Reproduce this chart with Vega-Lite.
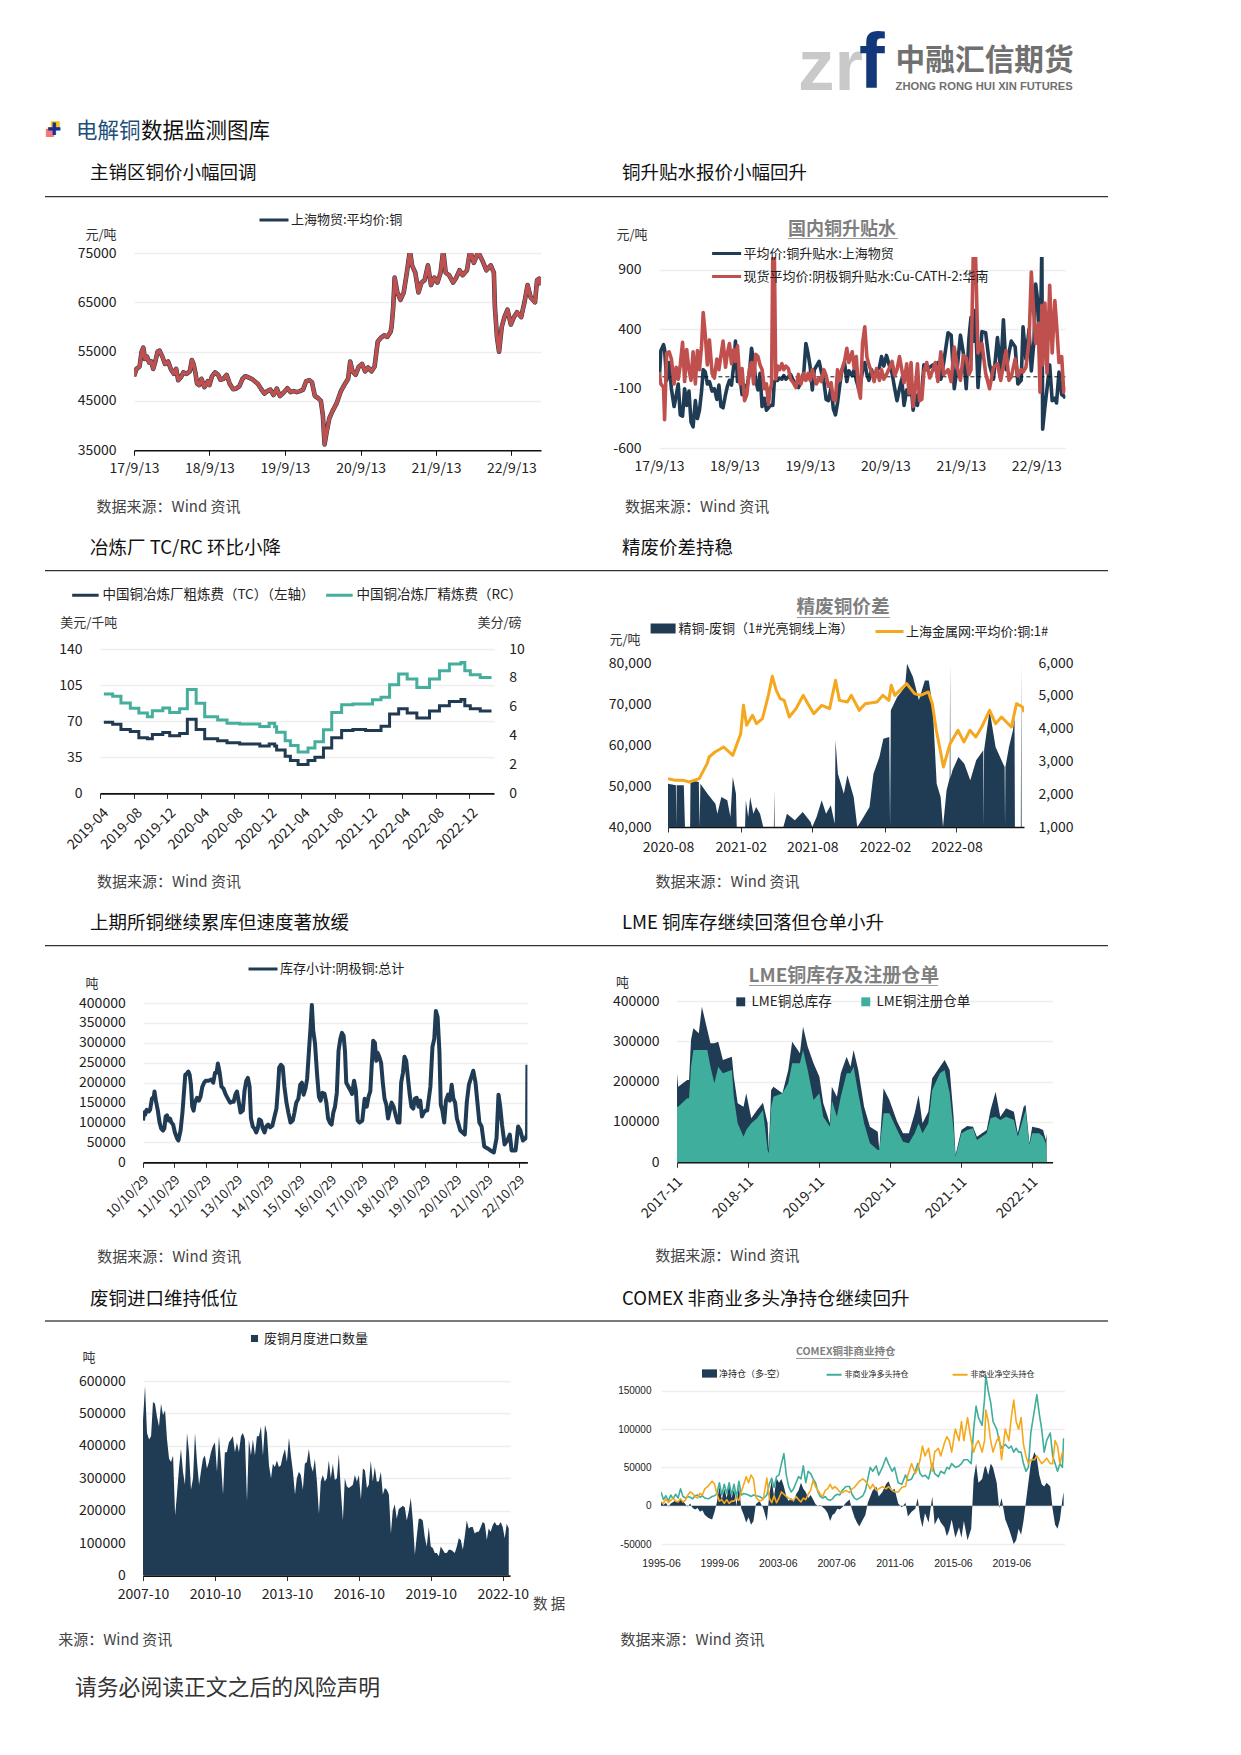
{"$schema":"https://vega.github.io/schema/vega-lite/v6.json","padding":0,"background":"white","config":{"font":"Noto Sans CJK SC","view":{"stroke":null},"axis":{"labelFontSize":14,"labelColor":"#222","labelFont":"Noto Sans CJK SC","titleFont":"Noto Sans CJK SC","titleFontWeight":"normal","titleFontSize":13,"titleColor":"#333","gridColor":"#eeeeee","gridWidth":1.5,"labelFlush":false,"labelOverlap":false},"legend":{"labelFontSize":13,"labelColor":"#222","labelLimit":500,"title":null,"symbolStrokeWidth":3}},
"spacing":0,"bounds":"flush",
"resolve":{"scale":{"stroke":"independent","fill":"independent"},"legend":{"stroke":"independent","fill":"independent"}},
"vconcat":[
{"spacing":0,"bounds":"flush","vconcat":[{"width":1,"height":0.001,"data":{"name":"e"},"mark":"point","title":{"text":"■","anchor":"start","frame":"group","offset":0,"dx":50,"dy":138,"baseline":"middle","fontSize":11,"color":"#f5c518","limit":0}}]},
{"spacing":0,"bounds":"flush","vconcat":[{"width":1,"height":0.001,"data":{"name":"e"},"mark":"point","title":{"text":"■","anchor":"start","frame":"group","offset":0,"dx":45,"dy":144,"baseline":"middle","fontSize":10,"color":"#f07a7a","limit":0}}]},
{"spacing":0,"bounds":"flush","vconcat":[{"width":1,"height":0.001,"data":{"name":"e"},"mark":"point","title":{"text":"✚","anchor":"start","frame":"group","offset":0,"dx":47,"dy":147,"baseline":"middle","fontSize":17,"font":"DejaVu Sans","color":"#1a2f8a","limit":0}}]},
{"spacing":0,"bounds":"flush","vconcat":[{"width":1,"height":0.001,"data":{"name":"e"},"mark":"point","title":{"text":"电解铜","anchor":"start","frame":"group","offset":0,"dx":76,"dy":153,"baseline":"middle","fontSize":21.5,"color":"#1f4e79","limit":0,"fontWeight":"normal"}}]},
{"spacing":0,"bounds":"flush","vconcat":[{"width":1,"height":0.001,"data":{"name":"e"},"mark":"point","title":{"text":"数据监测图库","anchor":"start","frame":"group","offset":0,"dx":141,"dy":153,"baseline":"middle","fontSize":21.5,"color":"#111","limit":0,"fontWeight":"normal"}}]},
{"spacing":0,"bounds":"flush","vconcat":[{"width":1,"height":0.001,"data":{"name":"e"},"mark":"point","title":{"text":"zr","anchor":"start","frame":"group","offset":0,"dx":798,"dy":163,"baseline":"alphabetic","fontSize":73,"font":"Liberation Sans","fontWeight":"bold","color":"#c9c9c9","limit":0}}]},
{"spacing":0,"bounds":"flush","vconcat":[{"width":1,"height":0.001,"data":{"name":"e"},"mark":"point","title":{"text":"f","anchor":"start","frame":"group","offset":0,"dx":859,"dy":165,"baseline":"alphabetic","fontSize":77,"font":"Liberation Sans","fontWeight":"bold","color":"#12387a","limit":0}}]},
{"spacing":0,"bounds":"flush","vconcat":[{"width":1,"height":0.001,"data":{"name":"e"},"mark":"point","title":{"text":"中融汇信期货","anchor":"start","frame":"group","offset":0,"dx":895.6,"dy":91,"baseline":"middle","fontSize":29.7,"fontWeight":"bold","color":"#707070","limit":0}}]},
{"spacing":0,"bounds":"flush","vconcat":[{"width":1,"height":0.001,"data":{"name":"e"},"mark":"point","title":{"text":"ZHONG RONG HUI XIN FUTURES","anchor":"start","frame":"group","offset":0,"dx":895.6,"dy":98.4,"baseline":"middle","fontSize":11.2,"font":"Liberation Sans","fontWeight":"bold","color":"#707070","limit":0}}]},
{"spacing":0,"bounds":"flush","vconcat":[{"width":1,"height":0.001,"data":{"name":"e"},"mark":"point","title":{"text":"请务必阅读正文之后的风险声明","anchor":"start","frame":"group","offset":0,"dx":75,"dy":1709.7,"baseline":"middle","fontSize":21.8,"color":"#333","limit":0,"fontWeight":"normal"}}]},
{"spacing":0,"bounds":"flush","vconcat":[{"width":1,"height":0.001,"data":{"name":"e"},"mark":"point","title":{"text":"数 据","anchor":"start","frame":"group","offset":0,"dx":533,"dy":1619.3,"baseline":"middle","fontSize":14.5,"color":"#444","limit":0,"fontWeight":"normal"}}]},
{"spacing":0,"bounds":"flush","vconcat":[{"width":1,"height":0.001,"data":{"name":"e"},"mark":"point","title":{"text":"主销区铜价小幅回调","anchor":"start","frame":"group","offset":0,"dx":90,"dy":191,"baseline":"middle","fontSize":18.5,"color":"#111","limit":0,"fontWeight":"normal"}}]},
{"spacing":0,"bounds":"flush","vconcat":[{"width":1,"height":0.001,"data":{"name":"e"},"mark":"point","title":{"text":"铜升贴水报价小幅回升","anchor":"start","frame":"group","offset":0,"dx":622,"dy":191,"baseline":"middle","fontSize":18.5,"color":"#111","limit":0,"fontWeight":"normal"}}]},
{"spacing":0,"bounds":"flush","vconcat":[{"width":1,"height":0.001,"data":{"name":"e"},"mark":"point","title":{"text":"冶炼厂 TC/RC 环比小降","anchor":"start","frame":"group","offset":0,"dx":90,"dy":566,"baseline":"middle","fontSize":18.5,"color":"#111","limit":0,"fontWeight":"normal"}}]},
{"spacing":0,"bounds":"flush","vconcat":[{"width":1,"height":0.001,"data":{"name":"e"},"mark":"point","title":{"text":"精废价差持稳","anchor":"start","frame":"group","offset":0,"dx":622,"dy":566,"baseline":"middle","fontSize":18.5,"color":"#111","limit":0,"fontWeight":"normal"}}]},
{"spacing":0,"bounds":"flush","vconcat":[{"width":1,"height":0.001,"data":{"name":"e"},"mark":"point","title":{"text":"上期所铜继续累库但速度著放缓","anchor":"start","frame":"group","offset":0,"dx":90,"dy":941.7,"baseline":"middle","fontSize":18.5,"color":"#111","limit":0,"fontWeight":"normal"}}]},
{"spacing":0,"bounds":"flush","vconcat":[{"width":1,"height":0.001,"data":{"name":"e"},"mark":"point","title":{"text":"LME 铜库存继续回落但仓单小升","anchor":"start","frame":"group","offset":0,"dx":622,"dy":941.7,"baseline":"middle","fontSize":18.5,"color":"#111","limit":0,"fontWeight":"normal"}}]},
{"spacing":0,"bounds":"flush","vconcat":[{"width":1,"height":0.001,"data":{"name":"e"},"mark":"point","title":{"text":"废铜进口维持低位","anchor":"start","frame":"group","offset":0,"dx":90,"dy":1317,"baseline":"middle","fontSize":18.5,"color":"#111","limit":0,"fontWeight":"normal"}}]},
{"spacing":0,"bounds":"flush","vconcat":[{"width":1,"height":0.001,"data":{"name":"e"},"mark":"point","title":{"text":"COMEX 非商业多头净持仓继续回升","anchor":"start","frame":"group","offset":0,"dx":622,"dy":1317,"baseline":"middle","fontSize":18.5,"color":"#111","limit":0,"fontWeight":"normal"}}]},
{"spacing":0,"bounds":"flush","vconcat":[{"width":1,"height":0.001,"data":{"name":"e"},"mark":"point","title":{"text":"国内铜升贴水","anchor":"start","frame":"group","offset":0,"dx":788,"dy":248,"baseline":"middle","fontSize":18,"fontWeight":"bold","color":"#7f7f7f","limit":0}}]},
{"spacing":0,"bounds":"flush","vconcat":[{"width":1,"height":0.001,"data":{"name":"e"},"mark":"point","title":{"text":"精废铜价差","anchor":"start","frame":"group","offset":0,"dx":796.5,"dy":625.7,"baseline":"middle","fontSize":18.6,"fontWeight":"bold","color":"#7f7f7f","limit":0}}]},
{"spacing":0,"bounds":"flush","vconcat":[{"width":1,"height":0.001,"data":{"name":"e"},"mark":"point","title":{"text":"LME铜库存及注册仓单","anchor":"start","frame":"group","offset":0,"dx":748.5,"dy":994.8,"baseline":"middle","fontSize":19,"fontWeight":"bold","color":"#7f7f7f","limit":0}}]},
{"spacing":0,"bounds":"flush","vconcat":[{"width":1,"height":0.001,"data":{"name":"e"},"mark":"point","title":{"text":"COMEX铜非商业持仓","anchor":"start","frame":"group","offset":0,"dx":796,"dy":1362,"baseline":"middle","fontSize":10.5,"fontWeight":"bold","color":"#7f7f7f","limit":0}}]},

{"spacing":0,"bounds":"flush","hconcat":[{"width":45,"height":1,"data":{"name":"e"},"mark":"point"},{"spacing":0,"bounds":"flush","vconcat":[{"width":1,"height":195.3,"data":{"name":"e"},"mark":"point"},{"width":1063,"height":1.3,"view":{"fill":"#333333","stroke":null},"data":{"name":"e"},"mark":"point"}]}]},
{"spacing":0,"bounds":"flush","hconcat":[{"width":45,"height":1,"data":{"name":"e"},"mark":"point"},{"spacing":0,"bounds":"flush","vconcat":[{"width":1,"height":570,"data":{"name":"e"},"mark":"point"},{"width":1063,"height":1.3,"view":{"fill":"#333333","stroke":null},"data":{"name":"e"},"mark":"point"}]}]},
{"spacing":0,"bounds":"flush","hconcat":[{"width":45,"height":1,"data":{"name":"e"},"mark":"point"},{"spacing":0,"bounds":"flush","vconcat":[{"width":1,"height":945,"data":{"name":"e"},"mark":"point"},{"width":1063,"height":1.3,"view":{"fill":"#333333","stroke":null},"data":{"name":"e"},"mark":"point"}]}]},
{"spacing":0,"bounds":"flush","hconcat":[{"width":45,"height":1,"data":{"name":"e"},"mark":"point"},{"spacing":0,"bounds":"flush","vconcat":[{"width":1,"height":1320,"data":{"name":"e"},"mark":"point"},{"width":1063,"height":2,"view":{"fill":"#7a7a7a","stroke":null},"data":{"name":"e"},"mark":"point"}]}]},
{"spacing":0,"bounds":"flush","hconcat":[{"width":787.6,"height":1,"data":{"name":"e"},"mark":"point"},{"spacing":0,"bounds":"flush","vconcat":[{"width":1,"height":237.6,"data":{"name":"e"},"mark":"point"},{"width":110,"height":1,"view":{"fill":"#9a9a9a","stroke":null},"data":{"name":"e"},"mark":"point"}]}]},
{"spacing":0,"bounds":"flush","hconcat":[{"width":796.5,"height":1,"data":{"name":"e"},"mark":"point"},{"spacing":0,"bounds":"flush","vconcat":[{"width":1,"height":616.7,"data":{"name":"e"},"mark":"point"},{"width":93,"height":1,"view":{"fill":"#9a9a9a","stroke":null},"data":{"name":"e"},"mark":"point"}]}]},
{"spacing":0,"bounds":"flush","hconcat":[{"width":748.5,"height":1,"data":{"name":"e"},"mark":"point"},{"spacing":0,"bounds":"flush","vconcat":[{"width":1,"height":985,"data":{"name":"e"},"mark":"point"},{"width":189,"height":1,"view":{"fill":"#9a9a9a","stroke":null},"data":{"name":"e"},"mark":"point"}]}]},
{"spacing":0,"bounds":"flush","hconcat":[{"width":796,"height":1,"data":{"name":"e"},"mark":"point"},{"spacing":0,"bounds":"flush","vconcat":[{"width":1,"height":1358,"data":{"name":"e"},"mark":"point"},{"width":93,"height":1,"view":{"fill":"#9a9a9a","stroke":null},"data":{"name":"e"},"mark":"point"}]}]},

{"spacing":0,"bounds":"flush","hconcat":[{"width":134,"height":1,"data":{"name":"e"},"mark":"point"},{"spacing":0,"bounds":"flush","resolve":{"scale":{"stroke":"independent","fill":"independent"},"legend":{"stroke":"independent","fill":"independent"}},"vconcat":[{"width":1,"height":252.4,"data":{"name":"e"},"mark":"point"},
{"width":407,"height":197.3,
 "layer":[
  {"data":{"name":"p1"},"mark":{"type":"line","clip":true,"strokeWidth":4.6,"strokeJoin":"round"},
   "encoding":{"x":{"field":"d","type":"temporal","title":"数据来源：Wind 资讯","scale":{"domain":[{"year":2017,"month":9,"date":13},{"year":2023,"month":2,"date":3}]},"axis":{"values":[{"year":2017,"month":9,"date":13},{"year":2018,"month":9,"date":13},{"year":2019,"month":9,"date":13},{"year":2020,"month":9,"date":13},{"year":2021,"month":9,"date":13},{"year":2022,"month":9,"date":13}],"format":"%y/%-m/%d","grid":false,"labelAngle":0,"domainColor":"#111","domainWidth":1.6,"tickColor":"#111","tickSize":5,"labelPadding":6,"titleX":-38,"titleY":56,"titleAlign":"left","titleBaseline":"middle","titleFontSize":15,"titleColor":"#444"}},
    "y":{"field":"v","type":"quantitative","title":"元/吨","scale":{"domain":[35000,75000]},"axis":{"values":[35000,45000,55000,65000,75000],"format":"d","domain":false,"ticks":false,"labelPadding":18,"titleAngle":0,"titleX":-49,"titleY":-19,"titleAlign":"left","titleBaseline":"middle"}},
    "stroke":{"datum":"上海物贸:平均价:铜","scale":{"range":["#203a52"]},"legend":{"orient":"none","legendX":124,"legendY":-49,"symbolType":"stroke","symbolSize":841,"labelOffset":1}}}},
  {"data":{"name":"p1"},"mark":{"type":"line","clip":true,"strokeWidth":3.6,"color":"#c0504d","strokeJoin":"round"},
   "encoding":{"x":{"field":"d","type":"temporal"},"y":{"field":"v","type":"quantitative","scale":{"domain":[35000,75000]}}}}
 ]}]}]},

{"spacing":0,"bounds":"flush","hconcat":[{"width":658.4,"height":1,"data":{"name":"e"},"mark":"point"},{"spacing":0,"bounds":"flush","resolve":{"scale":{"stroke":"independent","fill":"independent"},"legend":{"stroke":"independent","fill":"independent"}},"vconcat":[{"width":1,"height":256.5,"data":{"name":"e"},"mark":"point"},
{"width":406.4,"height":191.2,
 "layer":[
  {"data":{"name":"p2"},"mark":{"type":"line","clip":true,"strokeWidth":3.6,"strokeJoin":"round"},
   "encoding":{"x":{"field":"d","type":"temporal","title":"数据来源：Wind 资讯","scale":{"domain":[{"year":2017,"month":9,"date":13},{"year":2023,"month":2,"date":1}]},"axis":{"values":[{"year":2017,"month":9,"date":13},{"year":2018,"month":9,"date":13},{"year":2019,"month":9,"date":13},{"year":2020,"month":9,"date":13},{"year":2021,"month":9,"date":13},{"year":2022,"month":9,"date":13}],"format":"%y/%-m/%d","grid":false,"labelAngle":0,"domain":false,"ticks":false,"labelPadding":11,"titleX":-34.4,"titleY":58,"titleAlign":"left","titleBaseline":"middle","titleFontSize":15,"titleColor":"#444"}},
    "y":{"field":"n","type":"quantitative","title":"元/吨","scale":{"domain":[-600,1007]},"axis":{"values":[-600,-100,400,900],"format":"d","labelExpr":"replace(datum.label,'−','-')","domain":false,"ticks":false,"labelPadding":18,"titleAngle":0,"titleX":-43,"titleY":-23,"titleAlign":"left","titleBaseline":"middle"}},
    "stroke":{"datum":"平均价:铜升贴水:上海物贸","scale":{"domain":["平均价:铜升贴水:上海物贸","现货平均价:阴极铜升贴水:Cu-CATH-2:华南"],"range":["#203c55","#c0504d"]},"legend":{"orient":"none","legendX":51.6,"legendY":-19.5,"symbolType":"stroke","symbolSize":841,"labelOffset":1,"rowPadding":-2.3}}}},
  {"data":{"values":[{"z":0}]},"mark":{"type":"rule","strokeDash":[4,3],"color":"#111","strokeWidth":1},"encoding":{"y":{"field":"z","type":"quantitative","scale":{"domain":[-600,1007]}}}},
  {"data":{"name":"p2"},"mark":{"type":"line","clip":true,"strokeWidth":3.6,"strokeJoin":"round"},
   "encoding":{"x":{"field":"d","type":"temporal"},"y":{"field":"r","type":"quantitative","scale":{"domain":[-600,1007]}},"stroke":{"datum":"现货平均价:阴极铜升贴水:Cu-CATH-2:华南"}}}
 ]}]}]},

{"spacing":0,"bounds":"flush","hconcat":[{"width":99.6,"height":1,"data":{"name":"e"},"mark":"point"},{"spacing":0,"bounds":"flush","resolve":{"scale":{"stroke":"independent","fill":"independent"},"legend":{"stroke":"independent","fill":"independent"}},"vconcat":[{"width":1,"height":648.3,"data":{"name":"e"},"mark":"point"},
{"width":394,"height":144.4,"resolve":{"scale":{"y":"independent"}},
 "encoding":{"x":{"field":"d","type":"temporal","title":"数据来源：Wind 资讯","scale":{"domain":[{"year":2019,"month":4,"date":1},{"year":2023,"month":3,"date":1}]},"axis":{"values":[{"year":2019,"month":4},{"year":2019,"month":8},{"year":2019,"month":12},{"year":2020,"month":4},{"year":2020,"month":8},{"year":2020,"month":12},{"year":2021,"month":4},{"year":2021,"month":8},{"year":2021,"month":12},{"year":2022,"month":4},{"year":2022,"month":8},{"year":2022,"month":12}],"format":"%Y-%m","grid":false,"labelAngle":-45,"labelAlign":"right","labelBaseline":"middle","labelOffset":6,"domainColor":"#111","domainWidth":1.6,"tickColor":"#333","tickSize":5,"labelPadding":12,"titleX":-3.6,"titleY":88,"titleAlign":"left","titleBaseline":"middle","titleFontSize":15,"titleColor":"#444"}}},
 "layer":[
  {"data":{"name":"p3"},"mark":{"type":"line","interpolate":"step-after","strokeWidth":3,"clip":true},
   "encoding":{"y":{"field":"tc","type":"quantitative","title":"美元/千吨","scale":{"domain":[0,140]},"axis":{"orient":"left","values":[0,35,70,105,140],"domain":false,"ticks":false,"labelPadding":18,"titleAngle":0,"titleX":-40.3,"titleY":-26.6,"titleAlign":"left","titleBaseline":"middle"}},
    "stroke":{"datum":"中国铜冶炼厂粗炼费（TC）（左轴）","scale":{"domain":["中国铜冶炼厂粗炼费（TC）（左轴）","中国铜冶炼厂精炼费（RC）"],"range":["#203a52","#45ae9c"]},"legend":{"orient":"none","legendX":-29.6,"legendY":-69,"direction":"horizontal","columns":2,"symbolType":"stroke","symbolSize":702,"columnPadding":4,"labelFontSize":13.5,"labelOffset":2}}}},
  {"data":{"name":"p3"},"mark":{"type":"line","interpolate":"step-after","strokeWidth":3,"clip":true},
   "encoding":{"y":{"field":"rc","type":"quantitative","title":"美分/磅","scale":{"domain":[0,10]},"axis":{"orient":"right","values":[0,2,4,6,8,10],"domain":false,"ticks":false,"grid":false,"labelPadding":14.8,"titleAngle":0,"titleX":-17,"titleY":-26.6,"titleAlign":"left","titleBaseline":"middle"}},
    "stroke":{"datum":"中国铜冶炼厂精炼费（RC）"}}}
 ]}]}]},

{"spacing":0,"bounds":"flush","hconcat":[{"width":667.8,"height":1,"data":{"name":"e"},"mark":"point"},{"spacing":0,"bounds":"flush","resolve":{"scale":{"stroke":"independent","fill":"independent"},"legend":{"stroke":"independent","fill":"independent"}},"vconcat":[{"width":1,"height":662.7,"data":{"name":"e"},"mark":"point"},
{"width":356,"height":164,"resolve":{"scale":{"y":"independent"}},
 "encoding":{"x":{"field":"d","type":"temporal","title":"数据来源：Wind 资讯","scale":{"domain":[{"year":2020,"month":8,"date":1},{"year":2023,"month":1,"date":19}]},"axis":{"values":[{"year":2020,"month":8},{"year":2021,"month":2},{"year":2021,"month":8},{"year":2022,"month":2},{"year":2022,"month":8}],"format":"%Y-%m","grid":false,"labelAngle":0,"domainColor":"#111","domainWidth":1.6,"tickColor":"#333","tickSize":5,"labelPadding":8,"titleX":-13,"titleY":54,"titleAlign":"left","titleBaseline":"middle","titleFontSize":15,"titleColor":"#444"}}},
 "layer":[
  {"data":{"name":"p4a"},"mark":{"type":"area","clip":true},
   "encoding":{"y":{"field":"s","type":"quantitative","title":null,"scale":{"domain":[1000,6000]},"axis":{"orient":"right","values":[1000,2000,3000,4000,5000,6000],"format":",d","domain":false,"ticks":false,"grid":false,"labelPadding":14}},
    "fill":{"datum":"精铜-废铜（1#光亮铜线上海）","scale":{"range":["#203c55"]},"legend":{"orient":"none","legendX":-17.4,"legendY":-47,"symbolType":"M-1,-0.4H1V0.4H-1Z","symbolSize":625,"labelOffset":3,"symbolStrokeWidth":0}}}},
  {"data":{"name":"p4l"},"mark":{"type":"line","clip":true,"strokeWidth":3,"strokeJoin":"round"},
   "encoding":{"y":{"field":"p","type":"quantitative","title":"元/吨","scale":{"domain":[40000,80000]},"axis":{"orient":"left","values":[40000,50000,60000,70000,80000],"format":",d","domain":false,"ticks":false,"labelPadding":17,"titleAngle":0,"titleX":-59,"titleY":-23.4,"titleAlign":"left","titleBaseline":"middle"}},
    "stroke":{"datum":"上海金属网:平均价:铜:1#","scale":{"range":["#f5a71e"]},"legend":{"orient":"none","legendX":206,"legendY":-47,"symbolType":"stroke","symbolSize":784,"labelOffset":1}}}}
 ]}]}]},

{"spacing":0,"bounds":"flush","hconcat":[{"width":142.3,"height":1,"data":{"name":"e"},"mark":"point"},{"spacing":0,"bounds":"flush","resolve":{"scale":{"stroke":"independent","fill":"independent"},"legend":{"stroke":"independent","fill":"independent"}},"vconcat":[{"width":1,"height":1002.3,"data":{"name":"e"},"mark":"point"},
{"width":384.4,"height":159.4,"data":{"name":"p5"},"mark":{"type":"line","strokeWidth":4,"strokeJoin":"round","clip":true},
 "encoding":{"x":{"field":"d","type":"temporal","title":"数据来源：Wind 资讯","scale":{"domain":[{"year":2010,"month":10,"date":29},{"year":2023,"month":2,"date":5}]},"axis":{"values":[{"year":2010,"month":10,"date":29},{"year":2011,"month":10,"date":29},{"year":2012,"month":10,"date":29},{"year":2013,"month":10,"date":29},{"year":2014,"month":10,"date":29},{"year":2015,"month":10,"date":29},{"year":2016,"month":10,"date":29},{"year":2017,"month":10,"date":29},{"year":2018,"month":10,"date":29},{"year":2019,"month":10,"date":29},{"year":2020,"month":10,"date":29},{"year":2021,"month":10,"date":29},{"year":2022,"month":10,"date":29}],"format":"%y/%m/%d","grid":false,"labelAngle":-45,"labelAlign":"right","labelBaseline":"middle","labelOffset":3,"labelFontSize":13,"domainColor":"#111","domainWidth":1.6,"tickColor":"#333","tickSize":5,"labelPadding":10,"titleX":-46.3,"titleY":94,"titleAlign":"left","titleBaseline":"middle","titleFontSize":15,"titleColor":"#444"}},
  "y":{"field":"v","type":"quantitative","title":"吨","scale":{"domain":[0,400000]},"axis":{"values":[0,50000,100000,150000,200000,250000,300000,350000,400000],"format":"d","domain":false,"ticks":false,"labelPadding":17.8,"titleAngle":0,"titleX":-58,"titleY":-19.6,"titleAlign":"left","titleBaseline":"middle"}},
  "stroke":{"datum":"库存小计:阴极铜:总计","scale":{"range":["#203c55"]},"legend":{"orient":"none","legendX":104,"legendY":-50,"symbolType":"stroke","symbolSize":841,"labelOffset":1}}}}]}]},

{"spacing":0,"bounds":"flush","hconcat":[{"width":677,"height":1,"data":{"name":"e"},"mark":"point"},{"spacing":0,"bounds":"flush","resolve":{"scale":{"stroke":"independent","fill":"independent"},"legend":{"stroke":"independent","fill":"independent"}},"vconcat":[{"width":1,"height":1001,"data":{"name":"e"},"mark":"point"},
{"width":375.6,"height":161.3,
 "encoding":{"x":{"field":"d","type":"temporal","title":"数据来源：Wind 资讯","scale":{"domain":[{"year":2017,"month":11,"date":1},{"year":2023,"month":2,"date":14}]},"axis":{"values":[{"year":2017,"month":11},{"year":2018,"month":11},{"year":2019,"month":11},{"year":2020,"month":11},{"year":2021,"month":11},{"year":2022,"month":11}],"format":"%Y-%m","grid":false,"labelAngle":-45,"labelAlign":"right","labelBaseline":"middle","labelOffset":3,"domainColor":"#111","domainWidth":1.6,"tickColor":"#333","tickSize":5,"labelPadding":12,"titleX":-22.2,"titleY":93.4,"titleAlign":"left","titleBaseline":"middle","titleFontSize":15,"titleColor":"#444"}}},
 "layer":[
  {"data":{"name":"p6"},"mark":{"type":"area","clip":true},
   "encoding":{"y":{"field":"t","type":"quantitative","title":"吨","scale":{"domain":[0,400000]},"axis":{"values":[0,100000,200000,300000,400000],"format":"d","domain":false,"ticks":false,"labelPadding":18,"titleAngle":0,"titleX":-61.5,"titleY":-19,"titleAlign":"left","titleBaseline":"middle"}},
    "fill":{"datum":"LME铜总库存","scale":{"domain":["LME铜总库存","LME铜注册仓单"],"range":["#203c55","#3fae9c"]},"legend":{"orient":"none","legendX":57,"legendY":-6.3,"direction":"horizontal","columns":2,"symbolType":"square","symbolSize":80,"columnPadding":27,"labelFontSize":13.5,"labelOffset":4,"symbolStrokeWidth":0}}}},
  {"data":{"name":"p6"},"mark":{"type":"area","clip":true},
   "encoding":{"y":{"field":"r","type":"quantitative"},"fill":{"datum":"LME铜注册仓单"}}}
 ]}]}]},

{"spacing":0,"bounds":"flush","hconcat":[{"width":142.3,"height":1,"data":{"name":"e"},"mark":"point"},{"spacing":0,"bounds":"flush","resolve":{"scale":{"stroke":"independent","fill":"independent"},"legend":{"stroke":"independent","fill":"independent"}},"vconcat":[{"width":1,"height":1380.7,"data":{"name":"e"},"mark":"point"},
{"width":367,"height":194.6,"data":{"name":"p7"},"mark":{"type":"area","clip":true},
 "encoding":{"x":{"field":"d","type":"temporal","title":"来源：Wind 资讯","scale":{"domain":[{"year":2007,"month":10,"date":1},{"year":2023,"month":1,"date":20}]},"axis":{"values":[{"year":2007,"month":10},{"year":2010,"month":10},{"year":2013,"month":10},{"year":2016,"month":10},{"year":2019,"month":10},{"year":2022,"month":10}],"format":"%Y-%m","grid":false,"labelAngle":0,"domainColor":"#111","domainWidth":1.6,"tickColor":"#333","tickSize":5,"labelPadding":7,"titleX":-85.3,"titleY":63.7,"titleAlign":"left","titleBaseline":"middle","titleFontSize":15,"titleColor":"#444"}},
  "y":{"field":"v","type":"quantitative","title":"吨","scale":{"domain":[0,600000]},"axis":{"values":[0,100000,200000,300000,400000,500000,600000],"format":"d","domain":false,"ticks":false,"labelPadding":17.8,"titleAngle":0,"titleX":-61,"titleY":-24,"titleAlign":"left","titleBaseline":"middle"}},
  "fill":{"datum":"废铜月度进口数量","scale":{"range":["#203c55"]},"legend":{"orient":"none","legendX":105,"legendY":-49,"symbolType":"square","symbolSize":50,"labelOffset":3,"symbolStrokeWidth":0}}}}]}]},

{"spacing":0,"bounds":"flush","hconcat":[{"width":661,"height":1,"data":{"name":"e"},"mark":"point"},{"spacing":0,"bounds":"flush","resolve":{"scale":{"stroke":"independent","fill":"independent"},"legend":{"stroke":"independent","fill":"independent"}},"vconcat":[{"width":1,"height":1373.3,"data":{"name":"e"},"mark":"point"},
{"width":403.4,"height":170,
 "encoding":{"x":{"field":"d","type":"temporal","title":"数据来源：Wind 资讯","scale":{"domain":[{"year":1995,"month":6,"date":1},{"year":2023,"month":1,"date":20}]},"axis":{"values":[{"year":1995,"month":6},{"year":1999,"month":6},{"year":2003,"month":6},{"year":2007,"month":6},{"year":2011,"month":6},{"year":2015,"month":6},{"year":2019,"month":6}],"format":"%Y-%m","grid":false,"labelAngle":0,"labelFont":"Liberation Sans","labelFontSize":10.5,"domain":false,"ticks":false,"labelPadding":14,"titleX":-41,"titleY":95.7,"titleAlign":"left","titleBaseline":"middle","titleFontSize":15,"titleColor":"#444"}}},
 "layer":[
  {"data":{"name":"p8"},"mark":{"type":"area","clip":true},
   "encoding":{"y":{"field":"n","type":"quantitative","title":null,"scale":{"domain":[-50000,172000]},"axis":{"values":[-50000,0,50000,100000,150000],"format":"d","labelExpr":"replace(datum.label,'−','-')","labelFont":"Liberation Sans","labelFontSize":10,"domain":false,"ticks":false,"labelPadding":10}},
    "fill":{"datum":"净持仓（多-空）","scale":{"range":["#203c55"]},"legend":{"orient":"none","legendX":41,"legendY":-8,"symbolType":"M-1,-0.55H1V0.55H-1Z","symbolSize":225,"labelOffset":2,"labelFontSize":9,"symbolStrokeWidth":0}}}},
  {"data":{"name":"p8"},"mark":{"type":"line","clip":true,"strokeWidth":1.6,"strokeJoin":"round"},
   "encoding":{"y":{"field":"l","type":"quantitative","scale":{"domain":[-50000,172000]}},
    "stroke":{"datum":"非商业净多头持仓","scale":{"domain":["非商业净多头持仓","非商业净空头持仓"],"range":["#3fae9c","#f5a81c"]},"legend":{"orient":"none","legendX":164.6,"legendY":-8,"direction":"horizontal","columns":2,"symbolType":"stroke","symbolSize":225,"symbolStrokeWidth":2,"columnPadding":40,"labelFontSize":8,"labelOffset":2}}}},
  {"data":{"name":"p8"},"mark":{"type":"line","clip":true,"strokeWidth":1.6,"strokeJoin":"round"},
   "encoding":{"y":{"field":"s","type":"quantitative","scale":{"domain":[-50000,172000]}},"stroke":{"datum":"非商业净空头持仓"}}},
  {"data":{"values":[{"z":0}]},"mark":{"type":"rule","color":"#000","strokeWidth":2},"encoding":{"y":{"field":"z","type":"quantitative","scale":{"domain":[-50000,172000]}}}}
 ]}]}]}
],
"datasets":{"e":[],
"p1":[{"d":"2017-09-13","v":50000},{"d":"2017-09-25","v":51500},{"d":"2017-10-10","v":52000},{"d":"2017-10-20","v":55000},{"d":"2017-10-28","v":55800},{"d":"2017-11-05","v":53500},{"d":"2017-11-15","v":54000},{"d":"2017-11-25","v":52800},{"d":"2017-12-05","v":53000},{"d":"2017-12-15","v":51500},{"d":"2017-12-25","v":53000},{"d":"2018-01-05","v":55000},{"d":"2018-01-15","v":55200},{"d":"2018-01-28","v":54000},{"d":"2018-02-10","v":52500},{"d":"2018-02-25","v":53000},{"d":"2018-03-10","v":51500},{"d":"2018-03-25","v":50500},{"d":"2018-04-05","v":51500},{"d":"2018-04-15","v":49200},{"d":"2018-04-28","v":49800},{"d":"2018-05-10","v":50800},{"d":"2018-05-25","v":50500},{"d":"2018-06-10","v":51000},{"d":"2018-06-20","v":53300},{"d":"2018-06-28","v":52500},{"d":"2018-07-08","v":50500},{"d":"2018-07-15","v":48500},{"d":"2018-07-25","v":48200},{"d":"2018-08-05","v":49500},{"d":"2018-08-20","v":47800},{"d":"2018-09-05","v":49000},{"d":"2018-09-13","v":48200},{"d":"2018-09-25","v":50000},{"d":"2018-10-10","v":50800},{"d":"2018-10-25","v":50300},{"d":"2018-11-05","v":49300},{"d":"2018-11-20","v":49500},{"d":"2018-12-05","v":50300},{"d":"2018-12-20","v":48500},{"d":"2019-01-05","v":47400},{"d":"2019-01-20","v":47500},{"d":"2019-02-05","v":48000},{"d":"2019-02-20","v":49500},{"d":"2019-03-05","v":50000},{"d":"2019-03-20","v":49800},{"d":"2019-04-05","v":49500},{"d":"2019-04-20","v":49000},{"d":"2019-05-05","v":48500},{"d":"2019-05-20","v":47500},{"d":"2019-06-05","v":46500},{"d":"2019-06-20","v":47000},{"d":"2019-07-05","v":47300},{"d":"2019-07-20","v":46200},{"d":"2019-08-05","v":47500},{"d":"2019-08-20","v":46000},{"d":"2019-09-05","v":46600},{"d":"2019-09-13","v":47000},{"d":"2019-09-25","v":47600},{"d":"2019-10-10","v":46800},{"d":"2019-10-25","v":47000},{"d":"2019-11-10","v":46800},{"d":"2019-11-25","v":47000},{"d":"2019-12-10","v":47300},{"d":"2019-12-25","v":49000},{"d":"2020-01-10","v":49200},{"d":"2020-01-22","v":48800},{"d":"2020-02-05","v":46000},{"d":"2020-02-20","v":45600},{"d":"2020-03-05","v":45000},{"d":"2020-03-15","v":42000},{"d":"2020-03-23","v":36200},{"d":"2020-04-01","v":38500},{"d":"2020-04-15","v":41500},{"d":"2020-05-01","v":43000},{"d":"2020-05-20","v":44500},{"d":"2020-06-10","v":47000},{"d":"2020-06-30","v":48500},{"d":"2020-07-15","v":49500},{"d":"2020-07-25","v":53000},{"d":"2020-08-05","v":51000},{"d":"2020-08-20","v":50300},{"d":"2020-09-05","v":52000},{"d":"2020-09-20","v":52500},{"d":"2020-10-05","v":51000},{"d":"2020-10-20","v":51800},{"d":"2020-11-05","v":51000},{"d":"2020-11-20","v":52000},{"d":"2020-12-05","v":57000},{"d":"2020-12-20","v":57800},{"d":"2021-01-05","v":58300},{"d":"2021-01-20","v":58000},{"d":"2021-02-05","v":59000},{"d":"2021-02-10","v":60000},{"d":"2021-02-18","v":64000},{"d":"2021-02-25","v":70000},{"d":"2021-03-10","v":67000},{"d":"2021-03-25","v":65500},{"d":"2021-04-10","v":67000},{"d":"2021-04-25","v":71000},{"d":"2021-05-10","v":75500},{"d":"2021-05-20","v":72500},{"d":"2021-06-05","v":71000},{"d":"2021-06-20","v":67000},{"d":"2021-07-05","v":69000},{"d":"2021-07-20","v":69500},{"d":"2021-08-05","v":72500},{"d":"2021-08-20","v":68500},{"d":"2021-09-05","v":70000},{"d":"2021-09-20","v":69000},{"d":"2021-10-05","v":71000},{"d":"2021-10-18","v":75500},{"d":"2021-10-30","v":71000},{"d":"2021-11-15","v":70500},{"d":"2021-12-05","v":69000},{"d":"2021-12-20","v":70000},{"d":"2022-01-05","v":71500},{"d":"2022-01-20","v":70500},{"d":"2022-02-10","v":71500},{"d":"2022-02-25","v":75500},{"d":"2022-03-15","v":73000},{"d":"2022-04-05","v":75200},{"d":"2022-04-25","v":73500},{"d":"2022-05-15","v":71500},{"d":"2022-06-05","v":72500},{"d":"2022-06-20","v":71000},{"d":"2022-06-25","v":64000},{"d":"2022-07-05","v":58000},{"d":"2022-07-15","v":55000},{"d":"2022-07-28","v":60000},{"d":"2022-08-10","v":62000},{"d":"2022-08-25","v":63500},{"d":"2022-09-10","v":60500},{"d":"2022-09-25","v":62000},{"d":"2022-10-10","v":63000},{"d":"2022-10-30","v":62000},{"d":"2022-11-15","v":65000},{"d":"2022-11-30","v":68500},{"d":"2022-12-15","v":66000},{"d":"2023-01-05","v":65000},{"d":"2023-01-15","v":69500},{"d":"2023-01-25","v":69800},{"d":"2023-02-03","v":68500}],
"p2":[{"d":"2017-09-13","n":-60,"r":40},{"d":"2017-09-22","n":220,"r":-60},{"d":"2017-10-05","n":270,"r":-90},{"d":"2017-10-10","n":230,"r":-360},{"d":"2017-10-20","n":-30,"r":200},{"d":"2017-11-01","n":120,"r":210},{"d":"2017-11-12","n":-100,"r":150},{"d":"2017-11-25","n":-250,"r":-60},{"d":"2017-12-05","n":-160,"r":80},{"d":"2017-12-15","n":-60,"r":-20},{"d":"2017-12-25","n":-320,"r":100},{"d":"2018-01-05","n":-330,"r":290},{"d":"2018-01-15","n":-100,"r":-40},{"d":"2018-01-25","n":-240,"r":230},{"d":"2018-02-05","n":-120,"r":60},{"d":"2018-02-15","n":-380,"r":-30},{"d":"2018-02-25","n":-420,"r":210},{"d":"2018-03-08","n":-200,"r":-60},{"d":"2018-03-18","n":-350,"r":220},{"d":"2018-03-28","n":-280,"r":60},{"d":"2018-04-07","n":-120,"r":260},{"d":"2018-04-15","n":60,"r":540},{"d":"2018-04-25","n":40,"r":350},{"d":"2018-05-05","n":-60,"r":100},{"d":"2018-05-15","n":-40,"r":310},{"d":"2018-05-28","n":-120,"r":30},{"d":"2018-06-08","n":-100,"r":-10},{"d":"2018-06-20","n":-190,"r":150},{"d":"2018-06-30","n":-70,"r":60},{"d":"2018-07-10","n":-250,"r":180},{"d":"2018-07-20","n":-260,"r":300},{"d":"2018-08-01","n":-150,"r":80},{"d":"2018-08-10","n":-80,"r":200},{"d":"2018-08-20","n":-30,"r":280},{"d":"2018-08-30","n":-70,"r":110},{"d":"2018-09-10","n":100,"r":230},{"d":"2018-09-18","n":300,"r":130},{"d":"2018-09-28","n":-40,"r":260},{"d":"2018-10-10","n":0,"r":-60},{"d":"2018-10-20","n":-150,"r":70},{"d":"2018-11-01","n":-70,"r":-200},{"d":"2018-11-12","n":-100,"r":-150},{"d":"2018-11-25","n":40,"r":70},{"d":"2018-12-05","n":240,"r":120},{"d":"2018-12-15","n":130,"r":-60},{"d":"2018-12-25","n":-30,"r":190},{"d":"2019-01-05","n":-110,"r":170},{"d":"2019-01-15","n":30,"r":100},{"d":"2019-01-25","n":-250,"r":60},{"d":"2019-02-05","n":-180,"r":-100},{"d":"2019-02-15","n":-280,"r":-60},{"d":"2019-02-25","n":-260,"r":-230},{"d":"2019-03-05","n":-240,"r":-100},{"d":"2019-03-12","n":-240,"r":-60},{"d":"2019-03-18","n":-240,"r":1100},{"d":"2019-03-25","n":-40,"r":1100},{"d":"2019-04-01","n":-30,"r":-20},{"d":"2019-04-10","n":-30,"r":90},{"d":"2019-04-20","n":-10,"r":60},{"d":"2019-05-01","n":-20,"r":110},{"d":"2019-05-10","n":10,"r":60},{"d":"2019-05-20","n":-20,"r":90},{"d":"2019-06-01","n":0,"r":70},{"d":"2019-06-12","n":20,"r":-20},{"d":"2019-06-25","n":-30,"r":-50},{"d":"2019-07-08","n":-70,"r":-90},{"d":"2019-07-20","n":-90,"r":20},{"d":"2019-08-01","n":-50,"r":-60},{"d":"2019-08-15","n":40,"r":30},{"d":"2019-08-25","n":280,"r":-30},{"d":"2019-09-05","n":190,"r":30},{"d":"2019-09-15","n":80,"r":-30},{"d":"2019-09-25","n":-110,"r":60},{"d":"2019-10-05","n":60,"r":0},{"d":"2019-10-15","n":90,"r":-60},{"d":"2019-10-28","n":130,"r":-10},{"d":"2019-11-08","n":40,"r":-40},{"d":"2019-11-20","n":-40,"r":60},{"d":"2019-12-01","n":-190,"r":10},{"d":"2019-12-12","n":-200,"r":-80},{"d":"2019-12-25","n":-90,"r":-50},{"d":"2020-01-05","n":-270,"r":-190},{"d":"2020-01-15","n":-320,"r":-200},{"d":"2020-01-25","n":-220,"r":60},{"d":"2020-02-05","n":-70,"r":-30},{"d":"2020-02-15","n":50,"r":60},{"d":"2020-02-28","n":120,"r":130},{"d":"2020-03-10","n":-40,"r":240},{"d":"2020-03-20","n":50,"r":120},{"d":"2020-04-05","n":10,"r":210},{"d":"2020-04-15","n":60,"r":70},{"d":"2020-04-25","n":-30,"r":170},{"d":"2020-05-05","n":-90,"r":-100},{"d":"2020-05-15","n":-60,"r":-180},{"d":"2020-05-25","n":50,"r":280},{"d":"2020-06-05","n":120,"r":420},{"d":"2020-06-15","n":20,"r":170},{"d":"2020-06-25","n":-30,"r":100},{"d":"2020-07-08","n":60,"r":40},{"d":"2020-07-20","n":-20,"r":-40},{"d":"2020-08-01","n":50,"r":70},{"d":"2020-08-15","n":80,"r":-30},{"d":"2020-08-25","n":170,"r":60},{"d":"2020-09-05","n":90,"r":-20},{"d":"2020-09-18","n":180,"r":20},{"d":"2020-10-01","n":100,"r":70},{"d":"2020-10-15","n":30,"r":130},{"d":"2020-10-28","n":-100,"r":10},{"d":"2020-11-08","n":-200,"r":60},{"d":"2020-11-20","n":-100,"r":170},{"d":"2020-12-01","n":-20,"r":60},{"d":"2020-12-12","n":-240,"r":-50},{"d":"2020-12-25","n":-110,"r":110},{"d":"2021-01-05","n":-150,"r":-140},{"d":"2021-01-15","n":-60,"r":120},{"d":"2021-01-25","n":-280,"r":-250},{"d":"2021-02-05","n":-150,"r":-90},{"d":"2021-02-15","n":-240,"r":110},{"d":"2021-02-25","n":-120,"r":-200},{"d":"2021-03-08","n":-130,"r":-190},{"d":"2021-03-18","n":100,"r":40},{"d":"2021-04-01","n":60,"r":120},{"d":"2021-04-15","n":80,"r":-10},{"d":"2021-05-01","n":100,"r":60},{"d":"2021-05-12","n":60,"r":120},{"d":"2021-05-25","n":120,"r":-40},{"d":"2021-06-08","n":-20,"r":210},{"d":"2021-06-22","n":120,"r":20},{"d":"2021-07-13","n":370,"r":60},{"d":"2021-07-28","n":350,"r":-40},{"d":"2021-08-12","n":-100,"r":250},{"d":"2021-08-28","n":100,"r":70},{"d":"2021-09-11","n":350,"r":-30},{"d":"2021-09-25","n":200,"r":180},{"d":"2021-10-09","n":-100,"r":160},{"d":"2021-10-22","n":320,"r":20},{"d":"2021-11-01","n":500,"r":60},{"d":"2021-11-13","n":300,"r":1100},{"d":"2021-11-22","n":560,"r":1100},{"d":"2021-12-05","n":-90,"r":200},{"d":"2021-12-24","n":380,"r":280},{"d":"2022-01-11","n":370,"r":30},{"d":"2022-01-30","n":100,"r":-100},{"d":"2022-02-18","n":-20,"r":80},{"d":"2022-03-09","n":330,"r":110},{"d":"2022-03-25","n":50,"r":-30},{"d":"2022-04-07","n":480,"r":100},{"d":"2022-04-20","n":60,"r":220},{"d":"2022-05-04","n":200,"r":-30},{"d":"2022-05-15","n":300,"r":0},{"d":"2022-06-03","n":250,"r":150},{"d":"2022-06-16","n":-60,"r":10},{"d":"2022-07-02","n":-30,"r":60},{"d":"2022-07-11","n":420,"r":40},{"d":"2022-07-25","n":150,"r":80},{"d":"2022-08-09","n":400,"r":300},{"d":"2022-08-20","n":50,"r":880},{"d":"2022-09-02","n":300,"r":500},{"d":"2022-09-10","n":780,"r":280},{"d":"2022-09-23","n":600,"r":450},{"d":"2022-10-01","n":100,"r":-130},{"d":"2022-10-10","n":1100,"r":600},{"d":"2022-10-14","n":-440,"r":100},{"d":"2022-10-25","n":-250,"r":620},{"d":"2022-11-04","n":-100,"r":30},{"d":"2022-11-17","n":100,"r":770},{"d":"2022-11-29","n":-200,"r":200},{"d":"2022-12-12","n":-180,"r":640},{"d":"2022-12-20","n":-220,"r":450},{"d":"2023-01-01","n":40,"r":120},{"d":"2023-01-14","n":-150,"r":170},{"d":"2023-01-24","n":-160,"r":-130},{"d":"2023-02-01","n":-180,"r":-80}],
"p3":[{"d":"2019-04-15","tc":69,"rc":6.88},{"d":"2019-05-17","tc":67,"rc":6.72},{"d":"2019-06-16","tc":62,"rc":6.26},{"d":"2019-07-20","tc":60,"rc":5.89},{"d":"2019-08-20","tc":54,"rc":5.57},{"d":"2019-09-20","tc":53,"rc":5.31},{"d":"2019-10-08","tc":57,"rc":5.73},{"d":"2019-11-15","tc":59,"rc":5.91},{"d":"2019-12-10","tc":56,"rc":5.61},{"d":"2020-01-15","tc":58,"rc":5.87},{"d":"2020-02-12","tc":72,"rc":7.2},{"d":"2020-03-15","tc":62,"rc":6.25},{"d":"2020-04-15","tc":53,"rc":5.3},{"d":"2020-06-01","tc":51,"rc":5.08},{"d":"2020-07-05","tc":49,"rc":4.85},{"d":"2020-08-20","tc":48,"rc":4.8},{"d":"2020-09-30","tc":48,"rc":4.8},{"d":"2020-11-01","tc":46,"rc":4.64},{"d":"2020-12-05","tc":48,"rc":4.85},{"d":"2020-12-25","tc":46,"rc":4.62},{"d":"2021-01-01","tc":42,"rc":4.23},{"d":"2021-02-01","tc":36,"rc":3.65},{"d":"2021-02-20","tc":32,"rc":3.31},{"d":"2021-03-20","tc":28,"rc":2.87},{"d":"2021-04-25","tc":32,"rc":3.14},{"d":"2021-05-20","tc":35,"rc":3.58},{"d":"2021-06-20","tc":44,"rc":4.41},{"d":"2021-07-20","tc":54,"rc":5.61},{"d":"2021-08-25","tc":61,"rc":6.14},{"d":"2021-10-05","tc":62,"rc":6.19},{"d":"2021-11-20","tc":61,"rc":6.19},{"d":"2021-12-15","tc":61,"rc":6.49},{"d":"2022-01-15","tc":65,"rc":6.65},{"d":"2022-02-15","tc":77,"rc":7.52},{"d":"2022-03-20","tc":82,"rc":8.27},{"d":"2022-04-20","tc":78,"rc":7.92},{"d":"2022-05-25","tc":73,"rc":7.34},{"d":"2022-07-10","tc":80,"rc":7.92},{"d":"2022-08-15","tc":85,"rc":8.5},{"d":"2022-09-20","tc":89,"rc":8.96},{"d":"2022-11-01","tc":91,"rc":9.07},{"d":"2022-11-15","tc":85,"rc":8.5},{"d":"2022-12-05","tc":82,"rc":8.22},{"d":"2023-01-10","tc":80,"rc":8.03},{"d":"2023-02-20","tc":80,"rc":8.03}],
"p4a":[{"d":"2020-08-01","s":2321},{"d":"2020-08-21","s":2270},{"d":"2020-08-22","s":1000},{"d":"2020-08-23","s":2270},{"d":"2020-09-10","s":2270},{"d":"2020-09-13","s":1000},{"d":"2020-09-26","s":1000},{"d":"2020-09-27","s":2422},{"d":"2020-10-18","s":2372},{"d":"2020-10-20","s":1000},{"d":"2020-10-22","s":2321},{"d":"2020-11-09","s":2016},{"d":"2020-11-29","s":1711},{"d":"2020-12-04","s":1406},{"d":"2020-12-14","s":1914},{"d":"2020-12-29","s":1812},{"d":"2021-01-06","s":1305},{"d":"2021-01-12","s":2524},{"d":"2021-01-20","s":2016},{"d":"2021-01-22","s":1000},{"d":"2021-02-12","s":1000},{"d":"2021-02-14","s":1812},{"d":"2021-02-20","s":1305},{"d":"2021-02-25","s":1914},{"d":"2021-03-05","s":1406},{"d":"2021-03-12","s":1610},{"d":"2021-03-22","s":1406},{"d":"2021-03-30","s":1000},{"d":"2021-04-26","s":1000},{"d":"2021-04-27","s":2118},{"d":"2021-04-28","s":1000},{"d":"2021-05-20","s":1000},{"d":"2021-05-29","s":1406},{"d":"2021-06-18","s":1203},{"d":"2021-07-08","s":1457},{"d":"2021-07-28","s":1152},{"d":"2021-08-01","s":1000},{"d":"2021-08-12","s":1305},{"d":"2021-08-25","s":1812},{"d":"2021-09-05","s":1406},{"d":"2021-09-17","s":1660},{"d":"2021-09-27","s":1100},{"d":"2021-09-29","s":3642},{"d":"2021-10-05","s":2626},{"d":"2021-10-20","s":2016},{"d":"2021-10-29","s":2575},{"d":"2021-11-14","s":1914},{"d":"2021-11-23","s":1000},{"d":"2021-12-04","s":1203},{"d":"2021-12-24","s":1610},{"d":"2022-01-03","s":2626},{"d":"2022-01-18","s":3134},{"d":"2022-01-28","s":3692},{"d":"2022-02-12","s":3743},{"d":"2022-02-14","s":1000},{"d":"2022-02-16","s":4556},{"d":"2022-03-04","s":4962},{"d":"2022-03-24","s":5267},{"d":"2022-03-29","s":5978},{"d":"2022-04-13","s":5572},{"d":"2022-04-28","s":4861},{"d":"2022-05-13","s":5470},{"d":"2022-05-23","s":5470},{"d":"2022-06-02","s":4658},{"d":"2022-06-12","s":2321},{"d":"2022-06-22","s":1914},{"d":"2022-06-28","s":1000},{"d":"2022-07-07","s":2118},{"d":"2022-07-15","s":2500},{"d":"2022-07-16","s":6000},{"d":"2022-07-17","s":2500},{"d":"2022-07-22","s":2727},{"d":"2022-08-06","s":3134},{"d":"2022-08-21","s":2930},{"d":"2022-09-05","s":2422},{"d":"2022-09-20","s":3032},{"d":"2022-10-08","s":3337},{"d":"2022-10-09","s":1000},{"d":"2022-10-10","s":3337},{"d":"2022-10-24","s":4556},{"d":"2022-11-08","s":3438},{"d":"2022-11-23","s":3032},{"d":"2022-12-01","s":2829},{"d":"2022-12-02","s":1000},{"d":"2022-12-03","s":2829},{"d":"2022-12-12","s":3438},{"d":"2022-12-22","s":3946},{"d":"2022-12-26","s":4353},{"d":"2022-12-27","s":1000},{"d":"2023-01-11","s":1000},{"d":"2023-01-12","s":5978},{"d":"2023-01-13","s":1000}],
"p4l":[{"d":"2020-08-01","p":51790},{"d":"2020-08-20","p":51380},{"d":"2020-09-09","p":51380},{"d":"2020-09-24","p":50980},{"d":"2020-10-19","p":51790},{"d":"2020-11-08","p":55450},{"d":"2020-11-13","p":57070},{"d":"2020-11-28","p":58290},{"d":"2020-12-20","p":59510},{"d":"2021-01-12","p":57480},{"d":"2021-02-01","p":62760},{"d":"2021-02-08","p":69670},{"d":"2021-02-16","p":64800},{"d":"2021-03-03","p":67240},{"d":"2021-03-13","p":65200},{"d":"2021-03-28","p":66420},{"d":"2021-04-12","p":72110},{"d":"2021-04-22","p":76750},{"d":"2021-05-02","p":73330},{"d":"2021-05-12","p":71300},{"d":"2021-05-22","p":70890},{"d":"2021-06-04","p":66830},{"d":"2021-06-21","p":68860},{"d":"2021-07-09","p":72110},{"d":"2021-07-21","p":70080},{"d":"2021-08-05","p":67640},{"d":"2021-08-25","p":69670},{"d":"2021-09-14","p":68860},{"d":"2021-09-29","p":75770},{"d":"2021-10-09","p":70890},{"d":"2021-10-29","p":70490},{"d":"2021-11-08","p":72110},{"d":"2021-11-28","p":68460},{"d":"2021-12-13","p":70080},{"d":"2022-01-12","p":70490},{"d":"2022-01-27","p":72110},{"d":"2022-02-11","p":70890},{"d":"2022-02-17","p":74550},{"d":"2022-02-26","p":72110},{"d":"2022-03-28","p":74960},{"d":"2022-04-17","p":72520},{"d":"2022-05-02","p":72110},{"d":"2022-05-22","p":72930},{"d":"2022-06-01","p":70080},{"d":"2022-06-11","p":63580},{"d":"2022-06-21","p":58700},{"d":"2022-06-29","p":54630},{"d":"2022-07-16","p":60330},{"d":"2022-08-05","p":63580},{"d":"2022-08-20","p":60730},{"d":"2022-09-04","p":63580},{"d":"2022-09-19","p":61950},{"d":"2022-10-04","p":64390},{"d":"2022-10-24","p":68460},{"d":"2022-11-08","p":65200},{"d":"2022-11-23","p":66830},{"d":"2022-12-18","p":64390},{"d":"2022-12-31","p":70080},{"d":"2023-01-15","p":69270},{"d":"2023-01-19","p":68050}],
"p5":[{"d":"2010-10-29","v":105000},{"d":"2010-11-10","v":125000},{"d":"2010-11-25","v":120000},{"d":"2010-12-10","v":132000},{"d":"2011-01-05","v":128000},{"d":"2011-01-20","v":132000},{"d":"2011-02-10","v":160000},{"d":"2011-03-05","v":165000},{"d":"2011-03-12","v":178000},{"d":"2011-03-28","v":155000},{"d":"2011-04-20","v":130000},{"d":"2011-05-10","v":100000},{"d":"2011-05-29","v":85000},{"d":"2011-06-20","v":80000},{"d":"2011-07-05","v":85000},{"d":"2011-07-20","v":115000},{"d":"2011-08-05","v":118000},{"d":"2011-08-25","v":105000},{"d":"2011-09-10","v":110000},{"d":"2011-09-25","v":100000},{"d":"2011-10-15","v":95000},{"d":"2011-11-05","v":75000},{"d":"2011-12-01","v":60000},{"d":"2011-12-15","v":55000},{"d":"2012-01-10","v":80000},{"d":"2012-02-01","v":125000},{"d":"2012-02-20","v":180000},{"d":"2012-03-05","v":220000},{"d":"2012-03-20","v":222000},{"d":"2012-04-10","v":228000},{"d":"2012-04-25","v":220000},{"d":"2012-05-10","v":195000},{"d":"2012-05-25","v":140000},{"d":"2012-06-10","v":130000},{"d":"2012-06-25","v":150000},{"d":"2012-07-20","v":162000},{"d":"2012-08-10","v":155000},{"d":"2012-08-30","v":165000},{"d":"2012-09-20","v":190000},{"d":"2012-10-10","v":200000},{"d":"2012-10-29","v":205000},{"d":"2012-12-01","v":205000},{"d":"2013-01-01","v":208000},{"d":"2013-01-25","v":200000},{"d":"2013-02-15","v":225000},{"d":"2013-03-05","v":225000},{"d":"2013-03-20","v":248000},{"d":"2013-04-10","v":225000},{"d":"2013-05-01","v":190000},{"d":"2013-05-25","v":185000},{"d":"2013-06-20","v":170000},{"d":"2013-07-15","v":160000},{"d":"2013-08-10","v":150000},{"d":"2013-09-01","v":152000},{"d":"2013-09-20","v":152000},{"d":"2013-10-10","v":170000},{"d":"2013-10-29","v":178000},{"d":"2013-11-20","v":150000},{"d":"2013-12-10","v":125000},{"d":"2014-01-05","v":130000},{"d":"2014-01-25","v":180000},{"d":"2014-02-15","v":205000},{"d":"2014-03-05","v":212000},{"d":"2014-03-25","v":190000},{"d":"2014-04-10","v":110000},{"d":"2014-05-01","v":90000},{"d":"2014-05-20","v":85000},{"d":"2014-06-10","v":75000},{"d":"2014-06-28","v":85000},{"d":"2014-07-15","v":108000},{"d":"2014-08-05","v":105000},{"d":"2014-08-25","v":85000},{"d":"2014-09-15","v":75000},{"d":"2014-10-05","v":90000},{"d":"2014-10-29","v":95000},{"d":"2014-11-20","v":88000},{"d":"2014-12-15","v":92000},{"d":"2015-01-15","v":120000},{"d":"2015-02-01","v":135000},{"d":"2015-02-20","v":190000},{"d":"2015-03-05","v":238000},{"d":"2015-03-25","v":245000},{"d":"2015-04-15","v":240000},{"d":"2015-05-05","v":190000},{"d":"2015-05-29","v":150000},{"d":"2015-06-20","v":125000},{"d":"2015-07-15","v":100000},{"d":"2015-08-10","v":105000},{"d":"2015-08-30","v":125000},{"d":"2015-09-20","v":150000},{"d":"2015-10-15","v":160000},{"d":"2015-11-05","v":195000},{"d":"2015-11-25","v":200000},{"d":"2015-12-15","v":170000},{"d":"2016-01-05","v":185000},{"d":"2016-01-25","v":210000},{"d":"2016-02-15","v":280000},{"d":"2016-03-05","v":340000},{"d":"2016-03-20","v":395000},{"d":"2016-04-05","v":330000},{"d":"2016-04-25","v":300000},{"d":"2016-05-20","v":220000},{"d":"2016-06-10","v":165000},{"d":"2016-06-30","v":155000},{"d":"2016-07-20","v":175000},{"d":"2016-08-15","v":172000},{"d":"2016-09-05","v":150000},{"d":"2016-09-25","v":110000},{"d":"2016-10-15","v":100000},{"d":"2016-11-05","v":95000},{"d":"2016-11-25","v":125000},{"d":"2016-12-15","v":140000},{"d":"2017-01-05","v":175000},{"d":"2017-01-25","v":280000},{"d":"2017-02-15","v":310000},{"d":"2017-03-05","v":325000},{"d":"2017-03-25","v":318000},{"d":"2017-04-10","v":280000},{"d":"2017-04-25","v":200000},{"d":"2017-05-20","v":190000},{"d":"2017-06-15","v":180000},{"d":"2017-07-01","v":172000},{"d":"2017-07-25","v":205000},{"d":"2017-08-15","v":180000},{"d":"2017-09-05","v":105000},{"d":"2017-09-25","v":100000},{"d":"2017-10-29","v":105000},{"d":"2017-11-25","v":160000},{"d":"2017-12-20","v":140000},{"d":"2018-01-10","v":165000},{"d":"2018-01-30","v":178000},{"d":"2018-02-15","v":240000},{"d":"2018-03-05","v":305000},{"d":"2018-03-25","v":300000},{"d":"2018-04-10","v":255000},{"d":"2018-04-25","v":275000},{"d":"2018-05-15","v":265000},{"d":"2018-06-05","v":250000},{"d":"2018-06-25","v":200000},{"d":"2018-07-15","v":160000},{"d":"2018-08-05","v":145000},{"d":"2018-08-25","v":110000},{"d":"2018-09-15","v":130000},{"d":"2018-10-05","v":150000},{"d":"2018-10-29","v":140000},{"d":"2018-11-20","v":120000},{"d":"2018-12-15","v":100000},{"d":"2019-01-05","v":100000},{"d":"2019-01-25","v":200000},{"d":"2019-02-15","v":225000},{"d":"2019-03-05","v":265000},{"d":"2019-03-25","v":255000},{"d":"2019-04-15","v":210000},{"d":"2019-05-05","v":170000},{"d":"2019-05-25","v":140000},{"d":"2019-06-15","v":135000},{"d":"2019-07-05","v":160000},{"d":"2019-07-25","v":162000},{"d":"2019-08-15","v":140000},{"d":"2019-09-05","v":155000},{"d":"2019-09-25","v":115000},{"d":"2019-10-15","v":125000},{"d":"2019-11-05","v":130000},{"d":"2019-11-25","v":130000},{"d":"2020-01-01","v":190000},{"d":"2020-01-25","v":290000},{"d":"2020-02-15","v":310000},{"d":"2020-03-05","v":380000},{"d":"2020-03-25","v":365000},{"d":"2020-04-15","v":280000},{"d":"2020-05-01","v":145000},{"d":"2020-05-20","v":130000},{"d":"2020-06-10","v":100000},{"d":"2020-06-30","v":155000},{"d":"2020-07-25","v":170000},{"d":"2020-08-15","v":155000},{"d":"2020-09-05","v":195000},{"d":"2020-09-25","v":160000},{"d":"2020-10-15","v":150000},{"d":"2020-11-05","v":110000},{"d":"2020-12-15","v":80000},{"d":"2021-02-05","v":70000},{"d":"2021-02-28","v":150000},{"d":"2021-03-25","v":195000},{"d":"2021-05-15","v":230000},{"d":"2021-06-10","v":200000},{"d":"2021-07-25","v":100000},{"d":"2021-08-20","v":90000},{"d":"2021-09-20","v":40000},{"d":"2021-10-29","v":35000},{"d":"2021-12-01","v":30000},{"d":"2022-01-10","v":25000},{"d":"2022-02-10","v":60000},{"d":"2022-03-05","v":170000},{"d":"2022-03-25","v":140000},{"d":"2022-04-15","v":95000},{"d":"2022-05-15","v":45000},{"d":"2022-06-15","v":55000},{"d":"2022-07-15","v":70000},{"d":"2022-08-05","v":30000},{"d":"2022-09-20","v":30000},{"d":"2022-10-20","v":90000},{"d":"2022-11-15","v":80000},{"d":"2022-12-15","v":55000},{"d":"2023-01-15","v":60000},{"d":"2023-02-01","v":70000},{"d":"2023-02-05","v":245000}],
"p6":[{"d":"2017-11-01","t":220600,"r":138000},{"d":"2017-11-07","t":187600,"r":138000},{"d":"2017-12-23","t":204100,"r":158700},{"d":"2018-01-02","t":204100,"r":158700},{"d":"2018-01-12","t":303300,"r":237200},{"d":"2018-01-24","t":332200,"r":278500},{"d":"2018-02-21","t":319800,"r":278500},{"d":"2018-03-09","t":385900,"r":278500},{"d":"2018-04-06","t":328100,"r":278500},{"d":"2018-04-22","t":295000,"r":237200},{"d":"2018-05-12","t":295000,"r":195900},{"d":"2018-06-01","t":299200,"r":237200},{"d":"2018-06-25","t":253700,"r":220600},{"d":"2018-08-10","t":262000,"r":228900},{"d":"2018-08-20","t":212400,"r":162800},{"d":"2018-09-09","t":146300,"r":96700},{"d":"2018-10-09","t":138000,"r":63600},{"d":"2018-10-23","t":171100,"r":80200},{"d":"2018-11-18","t":109100,"r":96700},{"d":"2018-12-18","t":129700,"r":109100},{"d":"2019-01-17","t":147900,"r":129700},{"d":"2019-02-10","t":96700,"r":30600},{"d":"2019-02-16","t":30600,"r":22300},{"d":"2019-02-28","t":179300,"r":138000},{"d":"2019-03-12","t":187600,"r":162800},{"d":"2019-04-27","t":171100,"r":171100},{"d":"2019-05-27","t":228900,"r":195900},{"d":"2019-06-16","t":299200,"r":245400},{"d":"2019-07-26","t":270200,"r":245400},{"d":"2019-08-11","t":336400,"r":278500},{"d":"2019-09-04","t":286800,"r":228900},{"d":"2019-10-04","t":245400,"r":154500},{"d":"2019-11-03","t":212400,"r":171100},{"d":"2019-11-23","t":146300,"r":113200},{"d":"2019-12-27","t":96700,"r":88400},{"d":"2020-01-06","t":187600,"r":154500},{"d":"2020-02-01","t":162800,"r":113200},{"d":"2020-02-21","t":220600,"r":162800},{"d":"2020-03-22","t":262000,"r":220600},{"d":"2020-04-11","t":237200,"r":220600},{"d":"2020-04-27","t":278500,"r":237200},{"d":"2020-05-21","t":228900,"r":171100},{"d":"2020-06-20","t":138000,"r":96700},{"d":"2020-07-20","t":88400,"r":47100},{"d":"2020-08-29","t":76000,"r":30600},{"d":"2020-09-06","t":30600,"r":30600},{"d":"2020-09-28","t":183500,"r":121500},{"d":"2020-10-28","t":154500,"r":121500},{"d":"2020-12-07","t":100800,"r":80200},{"d":"2021-01-06","t":71900,"r":51200},{"d":"2021-02-05","t":71900,"r":47100},{"d":"2021-03-07","t":121500,"r":71900},{"d":"2021-03-27","t":166900,"r":96700},{"d":"2021-04-16","t":96700,"r":71900},{"d":"2021-05-16","t":125600,"r":96700},{"d":"2021-06-05","t":208300,"r":179300},{"d":"2021-07-15","t":237200,"r":220600},{"d":"2021-08-08","t":253700,"r":228900},{"d":"2021-09-03","t":228900,"r":171100},{"d":"2021-09-23","t":113200,"r":80200},{"d":"2021-10-03","t":18200,"r":14000},{"d":"2021-11-02","t":80200,"r":71900},{"d":"2021-12-02","t":90100,"r":80200},{"d":"2022-01-01","t":88400,"r":84300},{"d":"2022-01-21","t":63600,"r":55400},{"d":"2022-03-12","t":80200,"r":71900},{"d":"2022-04-01","t":129700,"r":109100},{"d":"2022-04-27","t":175200,"r":113200},{"d":"2022-05-21","t":113200,"r":105000},{"d":"2022-06-20","t":133900,"r":113200},{"d":"2022-07-30","t":125600,"r":105000},{"d":"2022-08-19","t":71900,"r":63600},{"d":"2022-09-18","t":138000,"r":113200},{"d":"2022-09-28","t":142100,"r":129700},{"d":"2022-10-18","t":47100,"r":43000},{"d":"2022-11-01","t":88400,"r":71900},{"d":"2022-12-07","t":84300,"r":71900},{"d":"2022-12-27","t":80200,"r":63600},{"d":"2023-01-10","t":55400,"r":47100},{"d":"2023-01-14","t":71900,"r":5800}],
"p7":[{"d":"2007-10","v":480000},{"d":"2007-11","v":585000},{"d":"2007-12","v":440000},{"d":"2008-01","v":420000},{"d":"2008-02","v":430000},{"d":"2008-03","v":535000},{"d":"2008-04","v":530000},{"d":"2008-05","v":490000},{"d":"2008-06","v":460000},{"d":"2008-07","v":530000},{"d":"2008-08","v":495000},{"d":"2008-09","v":510000},{"d":"2008-10","v":420000},{"d":"2008-11","v":360000},{"d":"2008-12","v":350000},{"d":"2009-01","v":370000},{"d":"2009-02","v":185000},{"d":"2009-03","v":250000},{"d":"2009-04","v":330000},{"d":"2009-05","v":390000},{"d":"2009-06","v":320000},{"d":"2009-07","v":280000},{"d":"2009-08","v":440000},{"d":"2009-09","v":380000},{"d":"2009-10","v":265000},{"d":"2009-11","v":300000},{"d":"2009-12","v":440000},{"d":"2010-01","v":350000},{"d":"2010-02","v":280000},{"d":"2010-03","v":320000},{"d":"2010-04","v":360000},{"d":"2010-05","v":370000},{"d":"2010-06","v":330000},{"d":"2010-07","v":350000},{"d":"2010-08","v":380000},{"d":"2010-09","v":400000},{"d":"2010-10","v":410000},{"d":"2010-11","v":320000},{"d":"2010-12","v":430000},{"d":"2011-01","v":350000},{"d":"2011-02","v":250000},{"d":"2011-03","v":380000},{"d":"2011-04","v":380000},{"d":"2011-05","v":410000},{"d":"2011-06","v":420000},{"d":"2011-07","v":430000},{"d":"2011-08","v":380000},{"d":"2011-09","v":410000},{"d":"2011-10","v":380000},{"d":"2011-11","v":430000},{"d":"2011-12","v":440000},{"d":"2012-01","v":420000},{"d":"2012-02","v":230000},{"d":"2012-03","v":420000},{"d":"2012-04","v":370000},{"d":"2012-05","v":420000},{"d":"2012-06","v":370000},{"d":"2012-07","v":430000},{"d":"2012-08","v":430000},{"d":"2012-09","v":460000},{"d":"2012-10","v":370000},{"d":"2012-11","v":465000},{"d":"2012-12","v":440000},{"d":"2013-01","v":340000},{"d":"2013-02","v":300000},{"d":"2013-03","v":345000},{"d":"2013-04","v":335000},{"d":"2013-05","v":355000},{"d":"2013-06","v":335000},{"d":"2013-07","v":340000},{"d":"2013-08","v":370000},{"d":"2013-09","v":390000},{"d":"2013-10","v":350000},{"d":"2013-11","v":425000},{"d":"2013-12","v":370000},{"d":"2014-01","v":320000},{"d":"2014-02","v":250000},{"d":"2014-03","v":300000},{"d":"2014-04","v":320000},{"d":"2014-05","v":310000},{"d":"2014-06","v":265000},{"d":"2014-07","v":345000},{"d":"2014-08","v":350000},{"d":"2014-09","v":390000},{"d":"2014-10","v":340000},{"d":"2014-11","v":320000},{"d":"2014-12","v":360000},{"d":"2015-01","v":290000},{"d":"2015-02","v":190000},{"d":"2015-03","v":290000},{"d":"2015-04","v":310000},{"d":"2015-05","v":290000},{"d":"2015-06","v":300000},{"d":"2015-07","v":355000},{"d":"2015-08","v":300000},{"d":"2015-09","v":345000},{"d":"2015-10","v":295000},{"d":"2015-11","v":300000},{"d":"2015-12","v":375000},{"d":"2016-01","v":260000},{"d":"2016-02","v":170000},{"d":"2016-03","v":300000},{"d":"2016-04","v":275000},{"d":"2016-05","v":270000},{"d":"2016-06","v":275000},{"d":"2016-07","v":280000},{"d":"2016-08","v":310000},{"d":"2016-09","v":290000},{"d":"2016-10","v":310000},{"d":"2016-11","v":235000},{"d":"2016-12","v":330000},{"d":"2017-01","v":325000},{"d":"2017-02","v":270000},{"d":"2017-03","v":280000},{"d":"2017-04","v":355000},{"d":"2017-05","v":290000},{"d":"2017-06","v":335000},{"d":"2017-07","v":290000},{"d":"2017-08","v":290000},{"d":"2017-09","v":320000},{"d":"2017-10","v":250000},{"d":"2017-11","v":270000},{"d":"2017-12","v":265000},{"d":"2018-01","v":250000},{"d":"2018-02","v":130000},{"d":"2018-03","v":200000},{"d":"2018-04","v":220000},{"d":"2018-05","v":175000},{"d":"2018-06","v":205000},{"d":"2018-07","v":210000},{"d":"2018-08","v":215000},{"d":"2018-09","v":210000},{"d":"2018-10","v":170000},{"d":"2018-11","v":200000},{"d":"2018-12","v":240000},{"d":"2019-01","v":170000},{"d":"2019-02","v":65000},{"d":"2019-03","v":120000},{"d":"2019-04","v":175000},{"d":"2019-05","v":175000},{"d":"2019-06","v":170000},{"d":"2019-07","v":120000},{"d":"2019-08","v":90000},{"d":"2019-09","v":150000},{"d":"2019-10","v":90000},{"d":"2019-11","v":85000},{"d":"2019-12","v":70000},{"d":"2020-01","v":70000},{"d":"2020-02","v":60000},{"d":"2020-03","v":90000},{"d":"2020-04","v":80000},{"d":"2020-05","v":70000},{"d":"2020-06","v":70000},{"d":"2020-07","v":80000},{"d":"2020-08","v":80000},{"d":"2020-09","v":75000},{"d":"2020-10","v":70000},{"d":"2020-11","v":90000},{"d":"2020-12","v":115000},{"d":"2021-01","v":110000},{"d":"2021-02","v":80000},{"d":"2021-03","v":120000},{"d":"2021-04","v":170000},{"d":"2021-05","v":145000},{"d":"2021-06","v":150000},{"d":"2021-07","v":150000},{"d":"2021-08","v":130000},{"d":"2021-09","v":135000},{"d":"2021-10","v":135000},{"d":"2021-11","v":150000},{"d":"2021-12","v":165000},{"d":"2022-01","v":160000},{"d":"2022-02","v":110000},{"d":"2022-03","v":145000},{"d":"2022-04","v":135000},{"d":"2022-05","v":155000},{"d":"2022-06","v":165000},{"d":"2022-07","v":155000},{"d":"2022-08","v":155000},{"d":"2022-09","v":165000},{"d":"2022-10","v":150000},{"d":"2022-11","v":115000},{"d":"2022-12","v":160000},{"d":"2023-01","v":145000}],
"p8":[{"d":"1995-06","n":5000,"l":18000,"s":5000},{"d":"1995-08","n":1000,"l":8000,"s":3000},{"d":"1995-10","n":4000,"l":13000,"s":9000},{"d":"1995-12","n":-1000,"l":6000,"s":4000},{"d":"1996-02","n":3000,"l":14000,"s":7000},{"d":"1996-04","n":5000,"l":9000,"s":10000},{"d":"1996-06","n":7000,"l":15000,"s":6000},{"d":"1996-08","n":5000,"l":10000,"s":5000},{"d":"1996-10","n":10000,"l":22000,"s":9000},{"d":"1996-12","n":6000,"l":12000,"s":5000},{"d":"1997-02","n":2000,"l":10000,"s":7000},{"d":"1997-04","n":-1000,"l":12000,"s":14000},{"d":"1997-06","n":3000,"l":11000,"s":18000},{"d":"1997-08","n":-3000,"l":9000,"s":16000},{"d":"1997-10","n":-5000,"l":13000,"s":12000},{"d":"1997-12","n":-3000,"l":14000,"s":10000},{"d":"1998-02","n":-8000,"l":11000,"s":16000},{"d":"1998-04","n":-6000,"l":13000,"s":14000},{"d":"1998-06","n":-12000,"l":10000,"s":22000},{"d":"1998-09","n":-16000,"l":9000,"s":26000},{"d":"1998-12","n":-18000,"l":12000,"s":32000},{"d":"1999-02","n":-8000,"l":13000,"s":28000},{"d":"1999-04","n":5000,"l":16000,"s":15000},{"d":"1999-06","n":25000,"l":30000,"s":6000},{"d":"1999-08","n":8000,"l":14000,"s":8000},{"d":"1999-10","n":22000,"l":28000,"s":3000},{"d":"1999-12","n":10000,"l":16000,"s":8000},{"d":"2000-02","n":28000,"l":30000,"s":3000},{"d":"2000-04","n":10000,"l":14000,"s":6000},{"d":"2000-06","n":22000,"l":28000,"s":6000},{"d":"2000-08","n":0,"l":11000,"s":10000},{"d":"2000-10","n":26000,"l":32000,"s":7000},{"d":"2000-12","n":-4000,"l":14000,"s":18000},{"d":"2001-02","n":-12000,"l":16000,"s":28000},{"d":"2001-04","n":-22000,"l":15000,"s":38000},{"d":"2001-06","n":-15000,"l":14000,"s":30000},{"d":"2001-08","n":-25000,"l":12000,"s":40000},{"d":"2001-10","n":-20000,"l":14000,"s":35000},{"d":"2001-12","n":2000,"l":13000,"s":11000},{"d":"2002-03","n":6000,"l":12000,"s":6000},{"d":"2002-06","n":-3000,"l":9000,"s":8000},{"d":"2002-09","n":-20000,"l":14000,"s":36000},{"d":"2002-11","n":15000,"l":28000,"s":10000},{"d":"2003-01","n":33000,"l":36000,"s":4000},{"d":"2003-03","n":12000,"l":24000,"s":13000},{"d":"2003-05","n":36000,"l":38000,"s":4000},{"d":"2003-07","n":30000,"l":40000,"s":10000},{"d":"2003-09","n":35000,"l":55000,"s":18000},{"d":"2003-11","n":25000,"l":68000,"s":15000},{"d":"2004-01","n":12000,"l":40000,"s":12000},{"d":"2004-03","n":6000,"l":25000,"s":10000},{"d":"2004-05","n":10000,"l":18000,"s":8000},{"d":"2004-07","n":5000,"l":22000,"s":7000},{"d":"2004-09","n":15000,"l":30000,"s":12000},{"d":"2004-11","n":20000,"l":38000,"s":8000},{"d":"2005-01","n":30000,"l":35000,"s":5000},{"d":"2005-03","n":22000,"l":52000,"s":10000},{"d":"2005-05","n":18000,"l":30000,"s":8000},{"d":"2005-07","n":10000,"l":45000,"s":15000},{"d":"2005-09","n":14000,"l":42000,"s":20000},{"d":"2005-11","n":8000,"l":35000,"s":33000},{"d":"2006-01","n":2000,"l":30000,"s":25000},{"d":"2006-03","n":0,"l":18000,"s":20000},{"d":"2006-05","n":1000,"l":12000,"s":15000},{"d":"2006-07","n":-2000,"l":10000,"s":12000},{"d":"2006-09","n":-5000,"l":12000,"s":20000},{"d":"2006-11","n":-10000,"l":8000,"s":22000},{"d":"2007-01","n":-20000,"l":7000,"s":28000},{"d":"2007-03","n":-12000,"l":9000,"s":22000},{"d":"2007-05","n":-10000,"l":13000,"s":25000},{"d":"2007-07","n":-4000,"l":15000,"s":22000},{"d":"2007-09","n":-5000,"l":14000,"s":18000},{"d":"2007-11","n":-2000,"l":20000,"s":17000},{"d":"2008-02","n":4000,"l":25000,"s":20000},{"d":"2008-05","n":8000,"l":25000,"s":17000},{"d":"2008-07","n":-5000,"l":15000,"s":22000},{"d":"2008-09","n":-15000,"l":10000,"s":24000},{"d":"2008-11","n":-22000,"l":8000,"s":28000},{"d":"2009-01","n":-27000,"l":10000,"s":32000},{"d":"2009-04","n":-18000,"l":13000,"s":35000},{"d":"2009-06","n":-12000,"l":20000,"s":32000},{"d":"2009-08","n":4000,"l":35000,"s":28000},{"d":"2009-10","n":12000,"l":50000,"s":22000},{"d":"2009-12","n":20000,"l":45000,"s":28000},{"d":"2010-03","n":25000,"l":52000,"s":20000},{"d":"2010-05","n":12000,"l":40000,"s":22000},{"d":"2010-08","n":18000,"l":50000,"s":25000},{"d":"2010-11","n":28000,"l":63000,"s":22000},{"d":"2011-01","n":32000,"l":55000,"s":25000},{"d":"2011-04","n":20000,"l":45000,"s":20000},{"d":"2011-06","n":22000,"l":50000,"s":18000},{"d":"2011-09","n":3000,"l":30000,"s":18000},{"d":"2011-12","n":-2000,"l":28000,"s":24000},{"d":"2012-03","n":4000,"l":40000,"s":25000},{"d":"2012-05","n":-14000,"l":33000,"s":40000},{"d":"2012-08","n":-8000,"l":35000,"s":55000},{"d":"2012-11","n":-4000,"l":45000,"s":42000},{"d":"2013-01","n":10000,"l":55000,"s":48000},{"d":"2013-03","n":-15000,"l":42000,"s":60000},{"d":"2013-05","n":-28000,"l":38000,"s":78000},{"d":"2013-07","n":-10000,"l":40000,"s":65000},{"d":"2013-10","n":-22000,"l":35000,"s":75000},{"d":"2014-01","n":12000,"l":55000,"s":45000},{"d":"2014-03","n":-25000,"l":42000,"s":70000},{"d":"2014-06","n":-15000,"l":38000,"s":75000},{"d":"2014-08","n":-22000,"l":45000,"s":65000},{"d":"2014-11","n":-28000,"l":42000,"s":82000},{"d":"2015-01","n":-40000,"l":50000,"s":90000},{"d":"2015-03","n":-32000,"l":48000,"s":85000},{"d":"2015-05","n":-18000,"l":55000,"s":70000},{"d":"2015-08","n":-42000,"l":50000,"s":100000},{"d":"2015-11","n":-28000,"l":52000,"s":85000},{"d":"2016-01","n":-42000,"l":55000,"s":110000},{"d":"2016-03","n":-20000,"l":60000,"s":85000},{"d":"2016-06","n":-45000,"l":60000,"s":115000},{"d":"2016-09","n":-30000,"l":55000,"s":85000},{"d":"2016-11","n":35000,"l":100000,"s":70000},{"d":"2017-01","n":55000,"l":130000,"s":80000},{"d":"2017-03","n":30000,"l":115000,"s":85000},{"d":"2017-06","n":35000,"l":105000,"s":70000},{"d":"2017-08","n":50000,"l":140000,"s":85000},{"d":"2017-09","n":52000,"l":170000,"s":125000},{"d":"2017-11","n":40000,"l":150000,"s":110000},{"d":"2018-01","n":55000,"l":135000,"s":85000},{"d":"2018-03","n":50000,"l":110000,"s":70000},{"d":"2018-06","n":30000,"l":100000,"s":85000},{"d":"2018-08","n":-3000,"l":85000,"s":90000},{"d":"2018-10","n":10000,"l":75000,"s":60000},{"d":"2019-01","n":-18000,"l":80000,"s":100000},{"d":"2019-04","n":-30000,"l":75000,"s":85000},{"d":"2019-06","n":-40000,"l":78000,"s":115000},{"d":"2019-08","n":-50000,"l":70000,"s":138000},{"d":"2019-10","n":-45000,"l":75000,"s":110000},{"d":"2019-12","n":-30000,"l":70000,"s":100000},{"d":"2020-02","n":-38000,"l":70000,"s":115000},{"d":"2020-04","n":-20000,"l":55000,"s":80000},{"d":"2020-06","n":5000,"l":45000,"s":65000},{"d":"2020-08","n":30000,"l":50000,"s":55000},{"d":"2020-10","n":55000,"l":95000,"s":60000},{"d":"2021-01","n":70000,"l":125000,"s":60000},{"d":"2021-03","n":62000,"l":145000,"s":65000},{"d":"2021-05","n":40000,"l":120000,"s":60000},{"d":"2021-07","n":28000,"l":100000,"s":55000},{"d":"2021-09","n":25000,"l":70000,"s":58000},{"d":"2021-11","n":30000,"l":85000,"s":62000},{"d":"2022-02","n":25000,"l":95000,"s":55000},{"d":"2022-04","n":-5000,"l":65000,"s":55000},{"d":"2022-06","n":-25000,"l":55000,"s":85000},{"d":"2022-08","n":-30000,"l":45000,"s":78000},{"d":"2022-10","n":-18000,"l":55000,"s":55000},{"d":"2022-12","n":8000,"l":50000,"s":70000},{"d":"2023-01","n":18000,"l":88000,"s":68000}]}
}
